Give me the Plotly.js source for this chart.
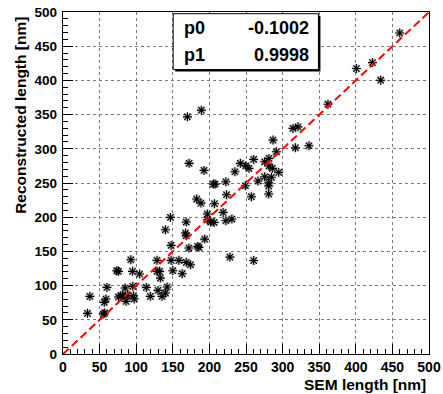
<!DOCTYPE html>
<html>
<head>
<meta charset="utf-8">
<script src="https://cdn.plot.ly/plotly-3.0.1.min.js"></script>
<style>html,body{margin:0;padding:0;background:#fff;}#plot{width:443px;height:394px;}</style>
</head>
<body>
<div id="plot"></div>
<script>
// SEM length [nm]
const semLength = [33.5,36.7,55,57,56.4,58.7,60,73.4,75.7,75.7,78.9,81.7,84.9,86.2,88,92.7,95,95.4,96.3,97.2,
  104.6,113.8,119.3,128.4,128.4,132,129.8,133,135.3,139.9,142.2,139.9,146.8,147.7,147.7,150,158.3,162.8,168.3,167.4,
  168.3,168.3,172,174.3,182.6,184,185.8,188.5,193.6,197.2,197.2,201.8,206.4,205.5,207.8,206.9,218.8,222.5,223.4,222.5,
  230.7,228,192.7,234.9,170,189,172.2,460,400.8,422.7,434,362,314.2,321,286.9,317.5,336,291.5,260.5,242.3,
  249.6,254.1,275.5,281.4,281.4,286,294.7,275.5,284.7,249.2,257.4,266.4,281,281,281,260.5];
// Reconstructed length [nm]
const recLength = [59.4,84.3,58.5,60,75.5,80.4,97.4,121.8,120.8,83.3,85.2,85.2,96.4,77,85.2,137.8,120.8,98.9,85.2,80.4,
  116.9,97.4,84.3,136.9,120.8,120.8,93,111,84.3,89.1,97.9,181.7,199.7,158.8,136.9,121.8,136.9,117.4,192.9,176.8,
  172.9,134,154.9,130.5,226.5,157.3,155.9,220.6,168,204.6,196.3,192.9,192.4,248.4,248.4,219.7,207,251.8,232.8,194.8,
  197.3,141.7,268.4,266.4,346.7,356.5,278.7,469.3,417.3,426,400.3,365.2,329.8,332.1,312.7,301.5,304.4,295.6,284.5,278.7,
  275.2,271.4,281,286,274.8,271.4,265.6,259.2,258.3,246,230,252.9,250.4,245.6,233.9,136.6];
// Fit parameters
const fitNames = ["p0", "p1"];
const fitValues = ["-0.1002", "0.9998"];
const p0 = parseFloat(fitValues[0]), p1 = parseFloat(fitValues[1]);
const fitX = [0, 500];
const fitY = fitX.map(x => p0 + p1 * x);

const W = 443, H = 394, L = 63.3, R = 428.7, T = 11.6, B = 354.3;
const px = x => (x - L) / (R - L);
const py = y => (B - y) / (B - T);
const F = "Liberation Sans, Arial, Helvetica, sans-serif";

const traces = [
  {x: semLength, y: recLength, type: "scatter", mode: "markers", hoverinfo: "skip",
   marker: {symbol: "circle", size: 9, color: "rgba(0,0,0,0.2)", line: {width: 0}}},
  {x: semLength, y: recLength, type: "scatter", mode: "markers",
   marker: {symbol: "asterisk-open", size: 7.5, color: "#000", line: {color: "#000", width: 1.1}}},
  {x: fitX, y: fitY, type: "scatter", mode: "lines",
   line: {color: "#ff0000", width: 2, dash: "8px,4px"}}
];

const axisCommon = {
  range: [0, 500], dtick: 50, tick0: 0,
  showline: true, mirror: true, linecolor: "#000", linewidth: 1.3,
  ticks: "inside", ticklen: 10, tickcolor: "#000", tickwidth: 1,
  showgrid: true, gridcolor: "#7a7a7a", griddash: "dot", gridwidth: 1,
  zeroline: false,
  minor: {ticks: "inside", ticklen: 5, dtick: 10, tickcolor: "#000", tickwidth: 1, showgrid: false}
};

const layout = {
  width: W, height: H, showlegend: false,
  paper_bgcolor: "#fff", plot_bgcolor: "#fff",
  margin: {l: L, r: W - R, t: T, b: H - B, pad: 0},
  xaxis: Object.assign({}, axisCommon, {ticklabelstandoff: 0,
    tickfont: {family: F, size: 14, color: "#000", weight: "bold"}}),
  yaxis: Object.assign({}, axisCommon, {ticklabelstandoff: 2,
    tickfont: {family: F, size: 13.5, color: "#000", weight: "bold"}}),
  shapes: [
    {type: "rect", xref: "paper", yref: "paper", x0: px(175.3), x1: px(320.3), y0: py(71.3), y1: py(15.3),
     fillcolor: "#000", line: {width: 0}, layer: "above"},
    {type: "rect", xref: "paper", yref: "paper", x0: px(173.3), x1: px(318.3), y0: py(69.3), y1: py(13.3),
     fillcolor: "#fff", line: {color: "#000", width: 1}, layer: "above"}
  ],
  annotations: [
    {text: fitNames[0], xref: "paper", yref: "paper", x: px(182), y: py(27.5), xanchor: "left", yanchor: "middle",
     showarrow: false, font: {family: F, size: 18, color: "#000", weight: "bold"}},
    {text: fitNames[1], xref: "paper", yref: "paper", x: px(182), y: py(55), xanchor: "left", yanchor: "middle",
     showarrow: false, font: {family: F, size: 18, color: "#000", weight: "bold"}},
    {text: fitValues[0], xref: "paper", yref: "paper", x: px(311), y: py(27.5), xanchor: "right", yanchor: "middle",
     showarrow: false, font: {family: F, size: 18, color: "#000", weight: "bold"}},
    {text: fitValues[1], xref: "paper", yref: "paper", x: px(311), y: py(55), xanchor: "right", yanchor: "middle",
     showarrow: false, font: {family: F, size: 18, color: "#000", weight: "bold"}},
    {text: "SEM length [nm]", xref: "paper", yref: "paper", x: px(428), y: py(385), xanchor: "right", yanchor: "middle",
     showarrow: false, font: {family: F, size: 15.5, color: "#000", weight: "bold"}},
    {text: "Reconstructed length [nm]", xref: "paper", yref: "paper", x: px(21), y: py(115), xanchor: "center", yanchor: "middle",
     textangle: -90, showarrow: false, font: {family: F, size: 15.5, color: "#000", weight: "bold"}}
  ]
};

Plotly.newPlot("plot", traces, layout, {displayModeBar: false, staticPlot: true});
</script>
</body>
</html>
